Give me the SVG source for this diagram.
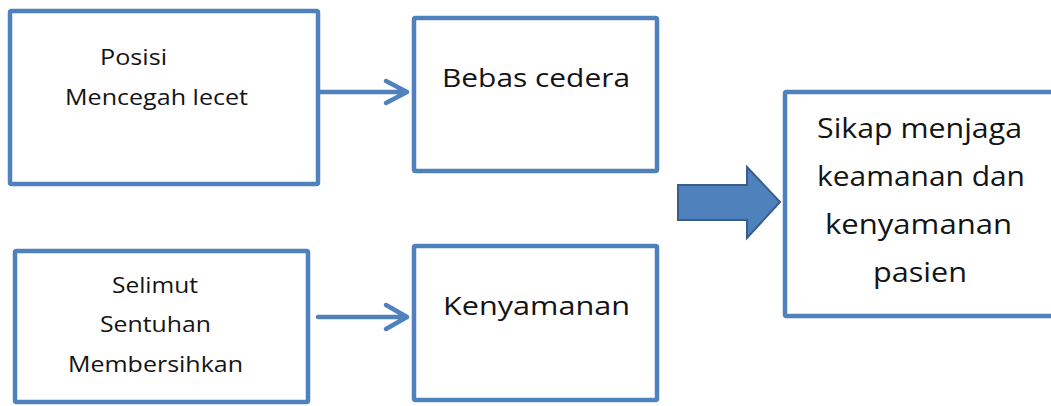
<svg xmlns="http://www.w3.org/2000/svg" width="1051" height="406" viewBox="0 0 1051 406">
<style>
.box{fill:#fff;stroke:#4F81BD;stroke-width:4.5}
.t{font-family:"Open Sans","Liberation Sans",Arial,sans-serif;font-weight:500;fill:#141414}
.s{font-size:21px}
.m{font-size:26px}
.l{font-size:27px}
.conn{fill:none;stroke:#4F81BD;stroke-width:4.5;stroke-linecap:round;stroke-linejoin:round}
</style>
<rect width="1051" height="406" fill="#fff"/>
<g id="node-posisi">
<rect class="box" x="10" y="11" width="308" height="173" rx="1.5"/>
<text class="t s" x="100" y="65" textLength="67" lengthAdjust="spacingAndGlyphs">Posisi</text>
<text class="t s" x="65" y="105" textLength="183" lengthAdjust="spacingAndGlyphs">Mencegah lecet</text>
</g>
<g id="node-bebas">
<rect class="box" x="414" y="18" width="243" height="153" rx="1.5"/>
<text class="t m" x="442" y="87" textLength="188" lengthAdjust="spacingAndGlyphs">Bebas cedera</text>
</g>
<g id="node-selimut">
<rect class="box" x="15" y="251" width="293" height="151" rx="1.5"/>
<text class="t s" x="112" y="293" textLength="86" lengthAdjust="spacingAndGlyphs">Selimut</text>
<text class="t s" x="100" y="332" textLength="111" lengthAdjust="spacingAndGlyphs">Sentuhan</text>
<text class="t s" x="68" y="372" textLength="175" lengthAdjust="spacingAndGlyphs">Membersihkan</text>
</g>
<g id="node-kenyamanan">
<rect class="box" x="414" y="246" width="243" height="154" rx="1.5"/>
<text class="t m" x="443" y="315" textLength="187" lengthAdjust="spacingAndGlyphs">Kenyamanan</text>
</g>
<g id="node-sikap">
<rect class="box" x="785" y="92" width="275" height="224" rx="1.5"/>
<text class="t l" x="817" y="138" textLength="205" lengthAdjust="spacingAndGlyphs">Sikap menjaga</text>
<text class="t l" x="817" y="186" textLength="208" lengthAdjust="spacingAndGlyphs">keamanan dan</text>
<text class="t l" x="825" y="234" textLength="187" lengthAdjust="spacingAndGlyphs">kenyamanan</text>
<text class="t l" x="873" y="282" textLength="94" lengthAdjust="spacingAndGlyphs">pasien</text>
</g>
<g id="connectors">
<path class="conn" d="M320 92 H407 M386 81 L407 92 L386 103"/>
<path class="conn" d="M318 317 H407 M386 305 L407 317 L386 329"/>
<path d="M678 185 H747 V167 L780 202 L747 238 V220 H678 Z" fill="#4F81BD" stroke="#385D8A" stroke-width="2" stroke-linejoin="miter"/>
</g>
</svg>
